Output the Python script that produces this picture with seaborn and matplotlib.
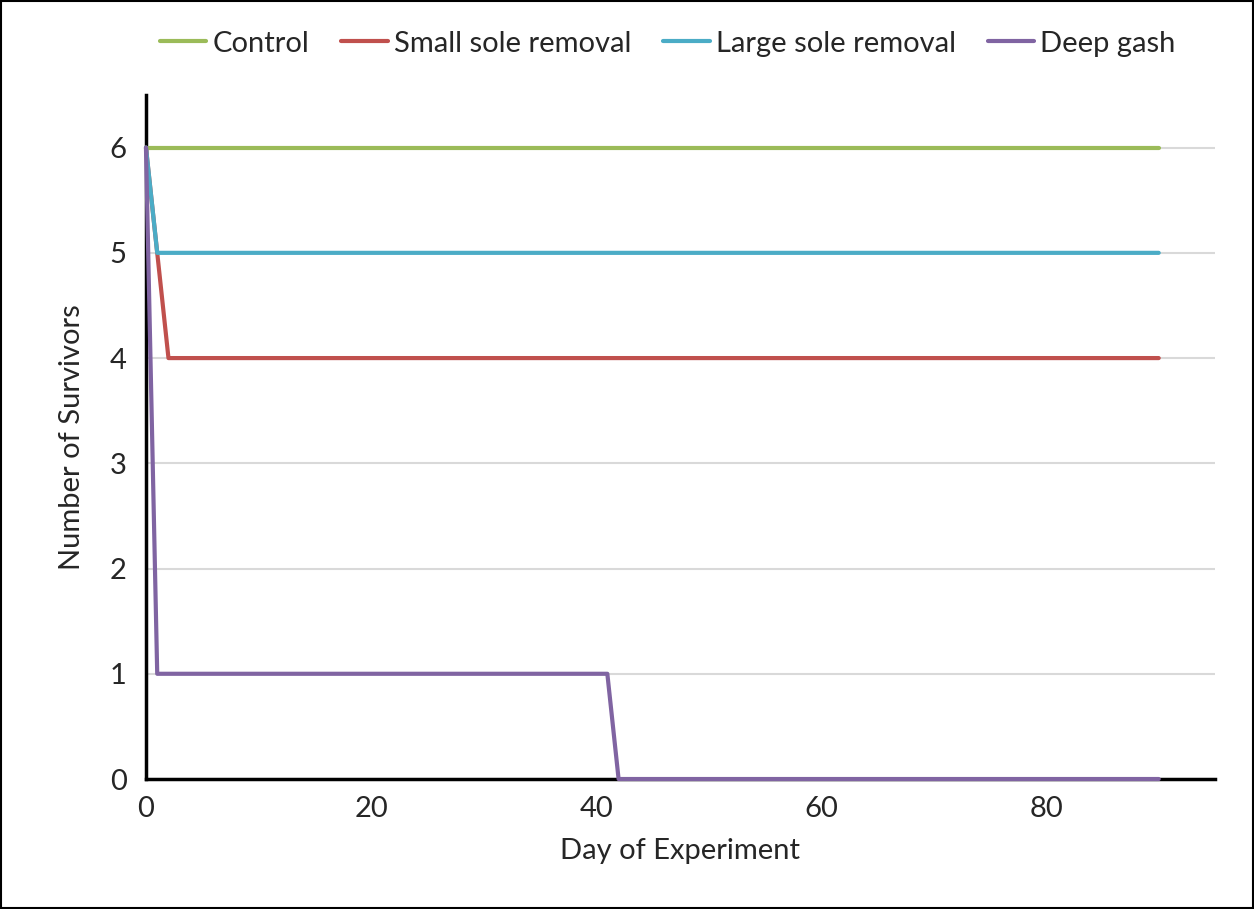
import pandas as pd
import matplotlib.pyplot as plt
import seaborn as sns

# Survivors per treatment
control_day = [0, 90]
control_n = [6, 6]
small_day = [0, 1, 2, 90]
small_n = [6, 5, 4, 4]
large_day = [0, 1, 90]
large_n = [6, 5, 5]
gash_day = [0, 1, 41, 42, 90]
gash_n = [6, 1, 1, 0, 0]

series = [("Control", control_day, control_n),
          ("Small sole removal", small_day, small_n),
          ("Large sole removal", large_day, large_n),
          ("Deep gash", gash_day, gash_n)]
rows = []
for name, days, counts in series:
    for d, c in zip(days, counts):
        rows.append({"Treatment": name, "Day": d, "Survivors": c})
df = pd.DataFrame(rows)

colors = ["#9BBB59", "#C0504D", "#4BACC6", "#8064A2"]

sns.set_style("white")
plt.rcParams['font.family'] = ['Lato', 'DejaVu Sans']

fig = plt.figure(figsize=(12.54, 9.09), dpi=100)
ax = fig.add_axes([0.1164, 0.143, 0.8525, 0.7525])
sns.lineplot(data=df, x="Day", y="Survivors", hue="Treatment", palette=colors,
             linewidth=3, ax=ax, estimator=None, sort=False)
for ln in ax.lines:
    ln.set_zorder(3)
    ln.set_clip_on(False)

ax.set_xlim(0, 95)
ax.set_ylim(0, 6.5)
ax.set_xticks([0, 20, 40, 60, 80])
ax.set_yticks([0, 1, 2, 3, 4, 5, 6])
ax.yaxis.grid(True, color="#D9D9D9", linewidth=1.5)
ax.set_axisbelow(True)
for s in ["top", "right"]:
    ax.spines[s].set_visible(False)
for s in ["left", "bottom"]:
    ax.spines[s].set_color("black")
    ax.spines[s].set_linewidth(2.5)
ax.tick_params(axis="both", labelsize=21, length=0)
ax.tick_params(axis="x", pad=12)
ax.tick_params(axis="y", pad=14)
ax.set_xlabel("Day of Experiment", fontsize=21, labelpad=12)
ax.set_ylabel("Number of Survivors", fontsize=21, labelpad=18)

ax.legend(loc="center", bbox_to_anchor=(0.488, 1.075), ncol=4, frameon=False,
          fontsize=21, handlelength=1.6, handletextpad=0.2, columnspacing=1.1)

fig.patches.append(plt.Rectangle((0.001, 0.001), 0.998, 0.998, transform=fig.transFigure,
                                 fill=False, edgecolor="black", linewidth=1.5))
fig.savefig("out.png", dpi=100)
